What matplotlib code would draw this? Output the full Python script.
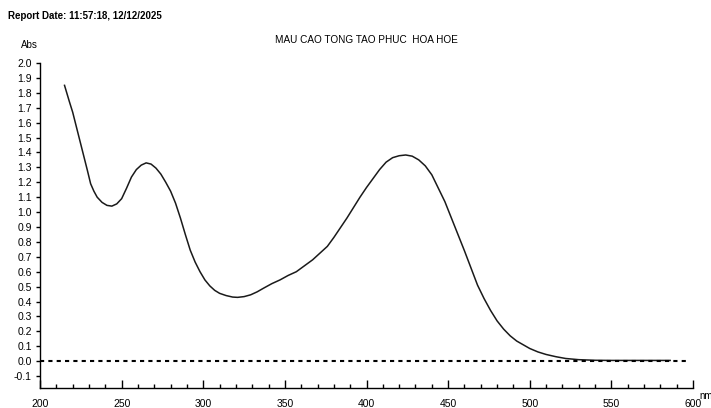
import matplotlib.pyplot as plt
from matplotlib.ticker import MultipleLocator

# ------------------------------------------
# Spectrum data
# ------------------------------------------

wavelength = [215, 218, 220, 223, 226, 229, 231, 233, 235, 238,
              241, 244, 247, 250, 253, 256, 259, 262, 265, 268,
              271, 274, 277, 280, 283, 286, 289, 292, 295, 298,
              301, 304, 307, 310, 314, 318, 321, 325, 329, 333,
              337, 342, 347, 352, 357, 362, 367, 372, 376, 380,
              384, 388, 392, 396, 400, 404, 408, 412, 416, 420,
              424, 428, 432, 436, 440, 444, 448, 452, 456, 460,
              464, 468, 472, 476, 480, 484, 488, 492, 496, 500,
              505, 510, 516, 522, 530, 540, 550, 570, 586]

absorbance = [1.85, 1.74, 1.67, 1.54, 1.41, 1.28, 1.19, 1.14, 1.10, 1.065,
              1.045, 1.04, 1.055, 1.09, 1.16, 1.235, 1.285, 1.315, 1.33, 1.322,
              1.295, 1.255, 1.20, 1.14, 1.06, 0.96, 0.85, 0.745, 0.665, 0.60,
              0.545, 0.505, 0.475, 0.455, 0.440, 0.430, 0.428, 0.433, 0.445, 0.465,
              0.49, 0.52, 0.545, 0.575, 0.60, 0.64, 0.68, 0.73, 0.77, 0.83,
              0.895, 0.96, 1.03, 1.10, 1.165, 1.225, 1.285, 1.335, 1.365, 1.378,
              1.383, 1.375, 1.35, 1.31, 1.25, 1.16, 1.07, 0.96, 0.85, 0.74,
              0.625, 0.51, 0.42, 0.34, 0.27, 0.215, 0.17, 0.135, 0.11, 0.085,
              0.062, 0.045, 0.03, 0.018, 0.01, 0.006, 0.005, 0.005, 0.005]

title = "MAU CAO TONG TAO PHUC  HOA HOE"
report_date = "Report Date: 11:57:18, 12/12/2025"

# ------------------------------------------
# Plot
# ------------------------------------------

plt.rcParams["font.family"] = ["Liberation Sans", "DejaVu Sans"]

fig = plt.figure(figsize=(7.11, 4.08), dpi=100)
ax = fig.add_axes([0.0563, 0.049, 0.9184, 0.7966])

ax.plot(wavelength, absorbance, color="#1a1a1a", linewidth=1.1)
ax.axhline(0, xmin=0, xmax=0.995, color="black", linewidth=1.5,
           linestyle=(0, (2, 2)))

ax.set_xlim(200, 600)
ax.set_ylim(-0.18, 2.0)

ax.spines["top"].set_visible(False)
ax.spines["right"].set_visible(False)
ax.spines["left"].set_linewidth(1.0)
ax.spines["bottom"].set_linewidth(1.0)

ax.xaxis.set_major_locator(MultipleLocator(50))
ax.xaxis.set_minor_locator(MultipleLocator(10))
ax.set_yticks([round(-0.1 + 0.1 * i, 1) for i in range(22)])
ax.set_yticklabels([f"{-0.1 + 0.1 * i:.1f}" for i in range(22)])

ax.tick_params(axis="x", which="major", direction="in", length=6, width=1,
               labelsize=7.5, pad=8)
ax.tick_params(axis="x", which="minor", direction="in", length=3, width=1)
ax.tick_params(axis="y", which="major", direction="out", length=3, width=1,
               labelsize=7.5, pad=3)

fig.text(0.515, 0.902, title, ha="center", va="center", fontsize=7.2)
fig.text(0.011, 0.961, report_date, ha="left", va="center", fontsize=7,
         fontweight="bold")
fig.text(0.030, 0.889, "Abs", ha="left", va="center", fontsize=7)
fig.text(0.983, 0.030, "nm", ha="left", va="center", fontsize=7)

plt.savefig("out.png", dpi=100)
